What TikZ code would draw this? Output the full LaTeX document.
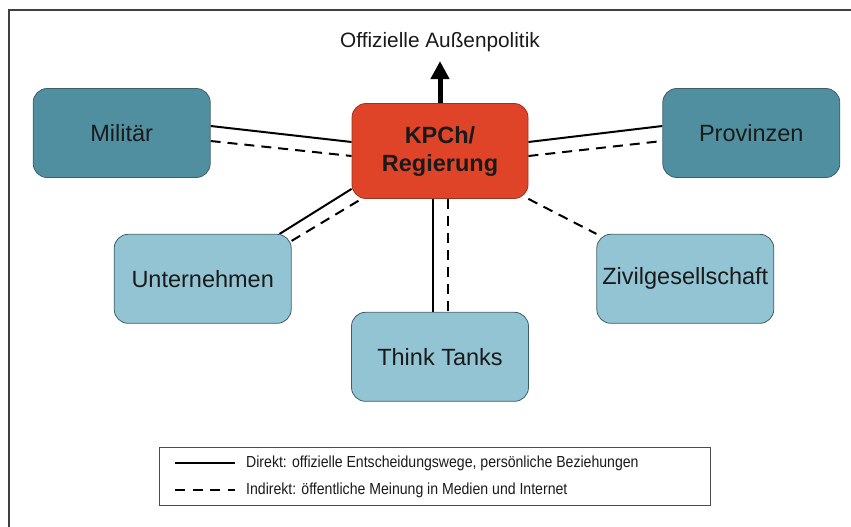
\documentclass[tikz,border=0pt]{standalone}
\usepackage{fontspec}
\setmainfont{Liberation Sans}
\newfontfamily\legendfont[FakeStretch=0.88]{Liberation Sans}
\usetikzlibrary{positioning}
\usetikzlibrary{arrows.meta}
\usetikzlibrary{backgrounds}

\definecolor{darkteal}{HTML}{4F8FA0}
\definecolor{lightteal}{HTML}{92C4D4}
\definecolor{partyred}{HTML}{E04428}
\definecolor{boxline}{HTML}{3E5F69}
\definecolor{redline}{HTML}{9A3420}
\definecolor{textdark}{HTML}{1A1A1A}

\begin{document}
\begin{tikzpicture}[
    x=1pt, y=1pt,
    actor/.style={
        draw=boxline,
        line width=0.8pt,
        rounded corners=14pt,
        minimum width=177pt,
        minimum height=89pt,
        align=center,
        text=textdark,
        font=\fontsize{23.5}{27}\selectfont,
    },
    outeractor/.style={actor, fill=darkteal},
    inneractor/.style={actor, fill=lightteal},
    party/.style={
        actor,
        draw=redline,
        fill=partyred,
        minimum width=176pt,
        minimum height=95pt,
        font=\bfseries\fontsize{23.5}{28}\selectfont,
    },
    direct/.style={line width=2pt, black},
    indirect/.style={line width=2pt, black, dash pattern=on 10pt off 7pt},
    legendtext/.style={
        anchor=west,
        inner sep=0pt,
        text=textdark,
        font=\legendfont\fontsize{16}{18}\selectfont,
    }
]

\useasboundingbox (0,0) rectangle (851,-527);
\draw[line width=1.3pt, black!75] (9,-527) -- (9,-10) -- (851,-10);

\node[party] (kpch) at (440,-151) {KPCh/\\Regierung};

\node[outeractor, left=141pt of kpch, yshift=18pt] (militaer) {Militär};
\node[outeractor, right=134pt of kpch, yshift=18pt] (provinzen) {Provinzen};
\node[inneractor, below left=35pt and 60pt of kpch] (unternehmen) {Unternehmen};
\node[inneractor, below right=35pt and 68pt of kpch] (zivil) {Zivilgesellschaft};
\node[inneractor, below=113pt of kpch] (think) {Think Tanks};

\coordinate[above=42pt of kpch.north] (politik);
\node[font=\fontsize{20.8}{23}\selectfont, text=textdark, inner sep=0pt,
      above=9pt of politik] (aussen) {Offizielle Außenpolitik};
\draw[line width=5pt, -{Triangle[width=18pt,length=18pt]}] (kpch.north) -- (politik);

\begin{scope}[on background layer]
\draw[direct] ([yshift=7pt]militaer.east) -- ([yshift=9pt]kpch.west);
\draw[indirect] ([yshift=-8pt]militaer.east) -- ([yshift=-5pt]kpch.west);
\draw[direct] ([yshift=9pt]kpch.east) -- ([yshift=7pt]provinzen.west);
\draw[indirect] ([yshift=-5pt]kpch.east) -- ([yshift=-8pt]provinzen.west);
\draw[direct] ([xshift=-12pt]unternehmen.north east) -- ([yshift=10pt]kpch.south west);
\draw[indirect] ([yshift=-7pt]unternehmen.north east) -- ([xshift=10pt]kpch.south west);
\draw[direct] ([xshift=-7pt]kpch.south) -- ([xshift=-7pt]think.north);
\draw[indirect] ([xshift=8pt]kpch.south) -- ([xshift=8pt]think.north);
\draw[indirect] (kpch.south east) -- (zivil.north west);
\end{scope}

% legend
\node[draw=black!70, line width=0.8pt, minimum width=551pt, minimum height=58pt,
      inner sep=0pt] (legend) at (434.5,-476) {};
\node[legendtext] (ldirect) at (246,-463)
    {Direkt: offizielle Entscheidungswege, persönliche Beziehungen};
\node[legendtext] (lindirect) at (246,-490)
    {Indirekt: öffentliche Meinung in Medien und Internet};
\coordinate[left=11pt of ldirect.west] (ld1);
\coordinate[left=71pt of ldirect.west] (ld0);
\coordinate[left=11pt of lindirect.west] (li1);
\coordinate[left=71pt of lindirect.west] (li0);
\draw[direct] (ld0) -- (ld1);
\draw[indirect, dash pattern=on 10pt off 7.5pt] (li0) -- (li1);
\end{tikzpicture}
\end{document}
